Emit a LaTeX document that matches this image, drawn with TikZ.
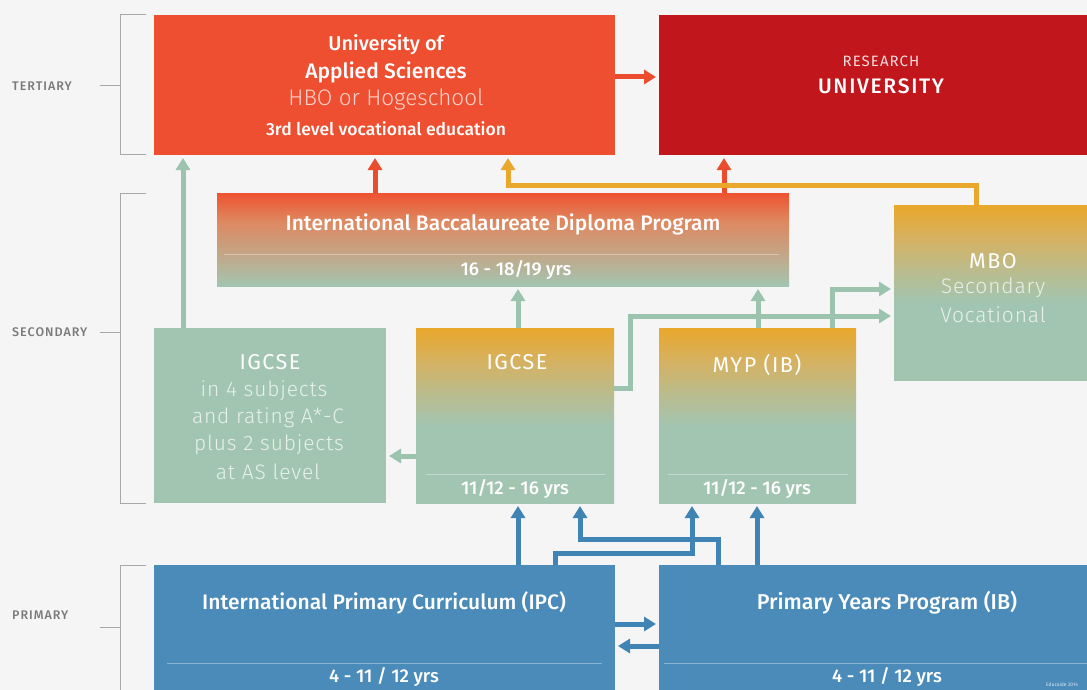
\documentclass[tikz,border=0pt]{standalone}
\usepackage{fontspec}
\setmainfont{Fira Sans}
\newfontfamily\med{Fira Sans Medium}
\newfontfamily\lite{Fira Sans Light}
\newfontfamily\spc[LetterSpace=7]{Fira Sans}
\newfontfamily\spclite[LetterSpace=4]{Fira Sans Light}
\newfontfamily\spcb[LetterSpace=8]{Fira Sans Medium}
\usetikzlibrary{arrows.meta}
\definecolor{bgc}{HTML}{F5F5F5}
\definecolor{uasred}{HTML}{EF4F31}
\definecolor{resred}{HTML}{C0161C}
\definecolor{arred}{HTML}{EC4C2E}
\definecolor{sage}{HTML}{A2C5B1}
\definecolor{sagearr}{HTML}{9CC3AE}
\definecolor{amber}{HTML}{E9A72B}
\definecolor{ymidA}{HTML}{D4B264}
\definecolor{ymidB}{HTML}{BABC8E}
\definecolor{rtop}{HTML}{EE5230}
\definecolor{rmidA}{HTML}{DE8860}
\definecolor{rmidB}{HTML}{C2A88A}
\definecolor{blue1}{HTML}{4A8BBA}
\definecolor{bluearr}{HTML}{3F84B4}
\definecolor{labgray}{HTML}{7A7A7A}
\definecolor{brgray}{HTML}{A8A8A8}
\pgfdeclareverticalshading{ygrad}{100bp}{color(0bp)=(sage); color(25bp)=(sage); color(47bp)=(sage); color(56bp)=(ymidB); color(65bp)=(ymidA); color(75bp)=(amber); color(100bp)=(amber)}
\pgfdeclareverticalshading{rgrad}{100bp}{color(0bp)=(sage); color(25bp)=(sage); color(41bp)=(rmidB); color(60bp)=(rmidA); color(75bp)=(rtop); color(100bp)=(rtop)}
\begin{document}
\begin{tikzpicture}[x=1pt,y=-1pt,
  box/.style={draw=none,inner sep=0pt,outer sep=0pt,anchor=north west,rectangle},
  txt/.style={text=white,inner sep=0pt,anchor=center},
  soft/.style={text=white,text opacity=0.75,inner sep=0pt,anchor=center},
  lab/.style={text=labgray,inner sep=0pt,anchor=west,font=\spcb\fontsize{12.5}{15}\selectfont},
  arr/.style={line width=5pt,-{Triangle[width=14pt,length=12pt]}},
  brk/.style={draw=brgray,line width=1pt},
  sepl/.style={draw=white,draw opacity=0.35,line width=1pt},
  m20/.style={font=\med\fontsize{21}{24}\selectfont},
  s20/.style={font=\spc\fontsize{21.5}{24}\selectfont},
  l20/.style={font=\spclite\fontsize{21}{24}\selectfont},
  m17/.style={font=\med\fontsize{18.5}{20}\selectfont}]
\useasboundingbox (0,0) rectangle (1087,690);
\fill[bgc] (0,0) rectangle (1087,690);

% brackets
\draw[brk] (146,15) -- (120,15) -- (120,155) -- (146,155);
\draw[brk] (100,86) -- (120,86);
\draw[brk] (146,193) -- (120,193) -- (120,503) -- (146,503);
\draw[brk] (100,332) -- (120,332);
\draw[brk] (146,565) -- (120,565) -- (120,695);
\draw[brk] (100,627) -- (120,627);
\node[lab] (ltert) at (12,86) {TERTIARY};
\node[lab] (lsec) at (12,332) {SECONDARY};
\node[lab] (lprim) at (12,615) {PRIMARY};

% boxes
\node[box,fill=uasred,minimum width=461pt,minimum height=140pt] (uas) at (154,15) {};
\node[box,fill=resred,minimum width=428pt,minimum height=140pt] (res) at (659,15) {};
\node[box,shading=rgrad,minimum width=572pt,minimum height=93pt] (ibdp) at (217,193) {};
\node[box,shading=ygrad,minimum width=193pt,minimum height=175pt] (mbo) at (894,205) {};
\node[box,fill=sage,minimum width=232pt,minimum height=175pt] (igl) at (154,328) {};
\node[box,shading=ygrad,minimum width=198pt,minimum height=175pt] (igm) at (416,328) {};
\node[box,shading=ygrad,minimum width=197pt,minimum height=175pt] (myp) at (659,328) {};
\node[box,fill=blue1,minimum width=461pt,minimum height=130pt] (ipc) at (154,565) {};
\node[box,fill=blue1,minimum width=428pt,minimum height=130pt] (pyp) at (659,565) {};

% separator lines
\draw[sepl] (224,254) -- (779,254);
\draw[sepl] (426,474) -- (605,474);
\draw[sepl] (668,474) -- (848,474);
\draw[sepl] (167,663) -- (602,663);
\draw[sepl] (664,663) -- (1087,663);

% texts
\node[txt,font=\med\fontsize{20}{24}\selectfont] (t1) at (386,45) {University of};
\node[txt,m20] (t2) at (386,72) {Applied Sciences};
\node[soft,font=\lite\fontsize{22.5}{24}\selectfont] (t3) at (386,99) {HBO or Hogeschool};
\node[txt,font=\med\fontsize{17.5}{20}\selectfont] (t4) at (386,129) {3rd level vocational education};
\node[txt,text opacity=0.85,font=\spc\fontsize{15}{17}\selectfont] (t5) at (881,61) {RESEARCH};
\node[txt,font=\spcb\fontsize{21}{24}\selectfont] (t6) at (881,86) {UNIVERSITY};
\node[txt,m20] (t7) at (503,224) {International Baccalaureate Diploma Program};
\node[txt,m17] (t8) at (516,270) {16 - 18/19 yrs};
\node[txt,s20] (t9) at (993,261) {MBO};
\node[soft,l20] (t10) at (993,288) {Secondary};
\node[soft,l20] (t11) at (993,315) {Vocational};
\node[txt,s20] (t12) at (270,362) {IGCSE};
\node[soft,l20] (t13) at (264,391) {in 4 subjects};
\node[soft,l20] (t14) at (268,418) {and rating A*-C};
\node[soft,l20] (t15) at (269,445) {plus 2 subjects};
\node[soft,l20] (t16) at (268,472) {at AS level};
\node[txt,s20] (t17) at (517,362) {IGCSE};
\node[txt,m17] (t18) at (515,489) {11/12 - 16 yrs};
\node[txt,s20] (t19) at (757,365) {MYP (IB)};
\node[txt,m17] (t20) at (757,489) {11/12 - 16 yrs};
\node[txt,m20] (t21) at (384,603) {International Primary Curriculum (IPC)};
\node[txt,m17] (t22) at (384,677) {4 - 11 / 12 yrs};
\node[txt,font=\med\fontsize{21.5}{24}\selectfont] (t23) at (887,603) {Primary Years Program (IB)};
\node[txt,m17] (t24) at (887,677) {4 - 11 / 12 yrs};
\node[txt,text opacity=0.8,font=\fontsize{5}{6}\selectfont] (t25) at (1062,685) {Educaide 2014};

% arrows
\draw[arr,arred] ([yshift=-62pt]uas.north east) -- ([xshift=-3pt,yshift=-62pt]res.north west);
\draw[arr,sagearr] ([xshift=29pt]igl.north west) -- ([xshift=29pt,yshift=-3pt]uas.south west);
\draw[arr,arred] ([xshift=158pt]ibdp.north west) -- ([xshift=221pt,yshift=-3pt]uas.south west);
\draw[arr,arred] ([xshift=507pt]ibdp.north west) -- ([xshift=65pt,yshift=-3pt]res.south west);
\draw[arr,amber] ([xshift=82pt]mbo.north west) -- ++(0,-20) -| ([xshift=354pt,yshift=-3pt]uas.south west);
\draw[arr,sagearr] ([xshift=102pt]igm.north west) -- ([xshift=301pt,yshift=-3pt]ibdp.south west);
\draw[arr,sagearr] ([xshift=99pt]myp.north west) -- ([xshift=541pt,yshift=-3pt]ibdp.south west);
\draw[arr,sagearr] ([yshift=-60pt]igm.north east) -- ++(16,0) |- ([xshift=-3pt,yshift=-111pt]mbo.north west);
\draw[arr,sagearr] ([xshift=173pt]myp.north west) |- ([xshift=-3pt,yshift=-84pt]mbo.north west);
\draw[arr,sagearr] ([yshift=-128pt]igm.north west) -- ([xshift=3pt,yshift=-128pt]igl.north east);
\draw[arr,bluearr] ([xshift=364pt]ipc.north west) -- ([xshift=102pt,yshift=-3pt]igm.south west);
\draw[arr,bluearr] ([xshift=59pt]pyp.north west) -- ++(0,-26) -| ([xshift=164pt,yshift=-3pt]igm.south west);
\draw[arr,bluearr] ([xshift=401pt]ipc.north west) -- ++(0,-12) -| ([xshift=33pt,yshift=-3pt]myp.south west);
\draw[arr,bluearr] ([xshift=98pt]pyp.north west) -- ([xshift=98pt,yshift=-3pt]myp.south west);
\draw[arr,bluearr] ([yshift=-59pt]ipc.north east) -- ([xshift=-3pt,yshift=-59pt]pyp.north west);
\draw[arr,bluearr] ([yshift=-81pt]pyp.north west) -- ([xshift=3pt,yshift=-81pt]ipc.north east);
\end{tikzpicture}
\end{document}
